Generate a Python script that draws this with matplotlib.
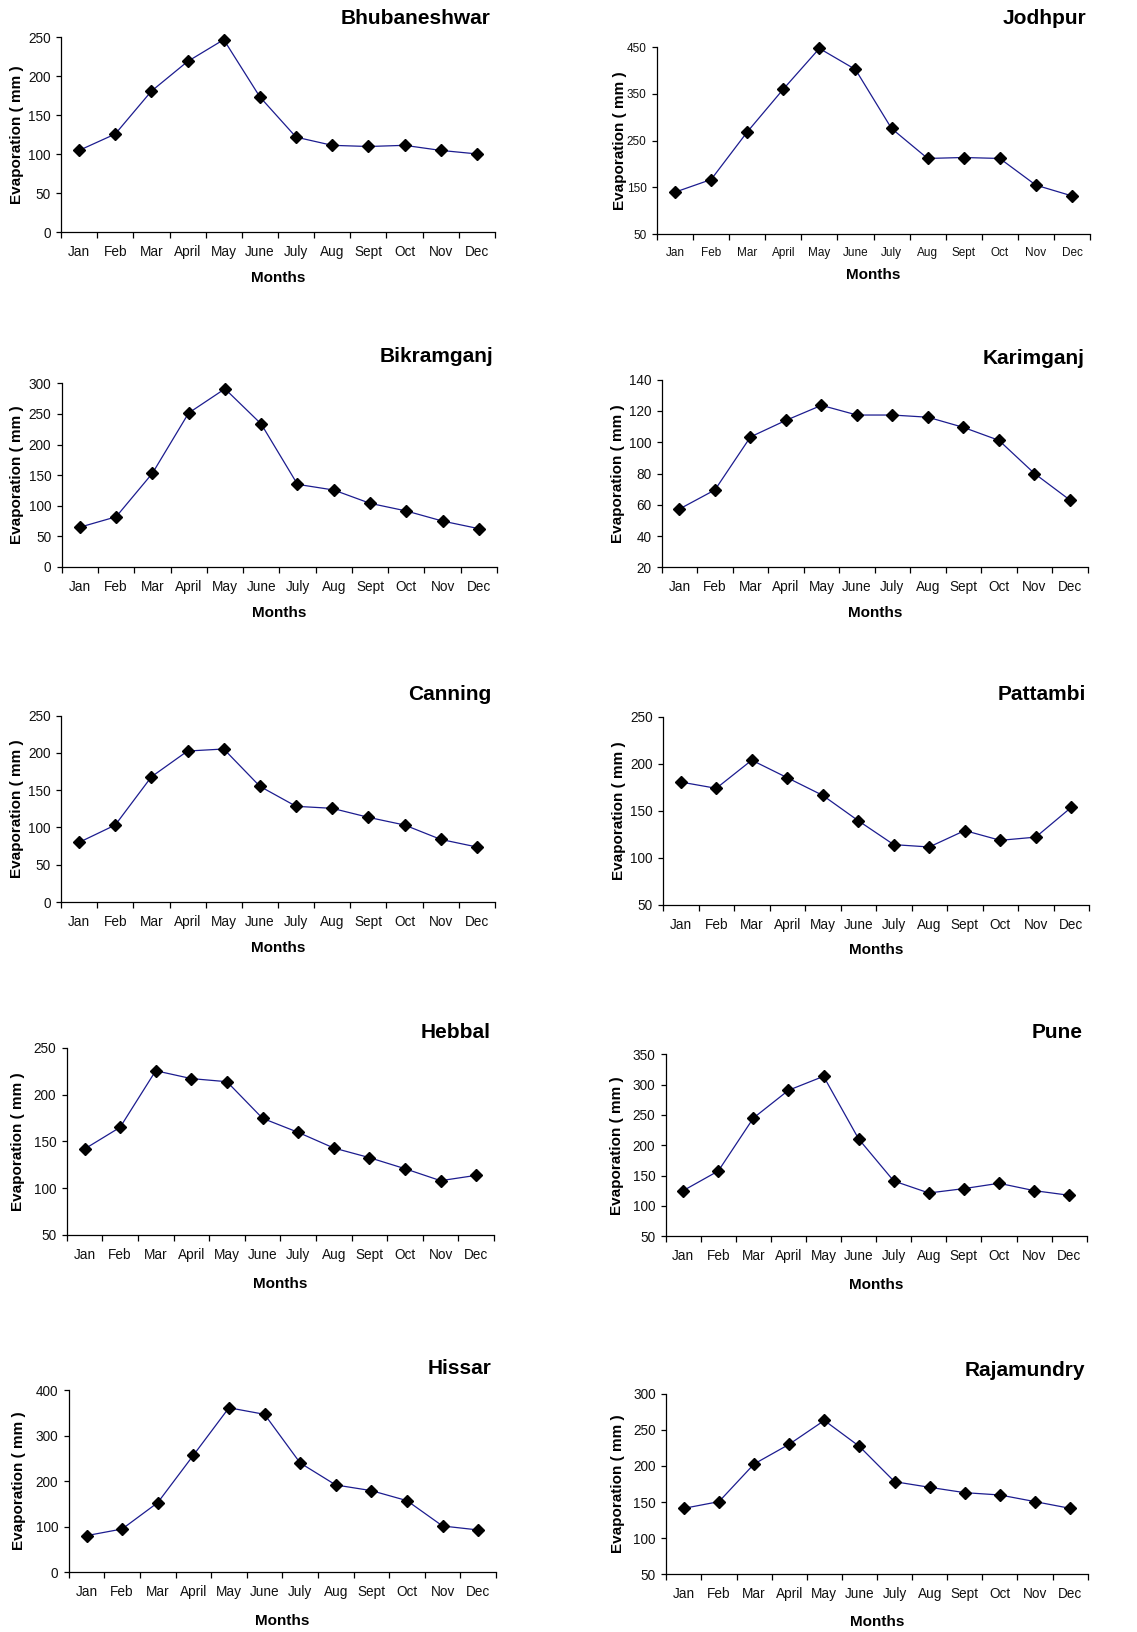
import numpy as np
import matplotlib
matplotlib.use("Agg")
import matplotlib.pyplot as plt

plt.rcParams['font.family'] = ['Liberation Sans', 'DejaVu Sans']

months = ["Jan", "Feb", "Mar", "April", "May", "June", "July", "Aug", "Sept", "Oct", "Nov", "Dec"]

bhubaneshwar = [105, 126, 181, 219, 247, 173.5, 122, 111.5, 110, 111.5, 105, 100.5]
jodhpur = [140, 167, 268.5, 360, 447, 402, 276, 212, 214, 212, 155, 132]
bikramganj = [65, 82, 153, 251.5, 291, 233.5, 135, 125.7, 104, 91.5, 75, 62.6]
karimganj = [57.3, 69.5, 103.4, 114, 123.6, 117.4, 117.4, 116, 109.5, 101.2, 80, 63]
canning = [80, 103.3, 168, 202.6, 205.3, 155.2, 128.4, 125.7, 113.6, 103.3, 84, 73.8]
pattambi = [180.7, 174, 204, 185.3, 166.5, 139.5, 114, 111.5, 129, 118.6, 122, 153.7]
hebbal = [141.8, 165, 225.4, 217, 213.7, 174.6, 159.6, 142.9, 132.6, 120.8, 108, 113.7]
pune = [125.3, 157.7, 245, 290.7, 313.7, 210.4, 141.2, 121.4, 128.6, 137.4, 125.3, 117.6]
hissar = [80.4, 95, 152.8, 256.7, 361, 346.6, 239.9, 191.6, 179.2, 157.2, 101.6, 92.9]
rajamundry = [141.3, 150.6, 202.7, 230, 263, 227, 178.2, 170.4, 163, 159.8, 150.6, 141.3]

stations = ["Bhubaneshwar", "Jodhpur", "Bikramganj", "Karimganj", "Canning",
            "Pattambi", "Hebbal", "Pune", "Hissar", "Rajamundry"]
series = [bhubaneshwar, jodhpur, bikramganj, karimganj, canning,
          pattambi, hebbal, pune, hissar, rajamundry]
yticks = [np.arange(0, 251, 50), np.arange(50, 451, 100), np.arange(0, 301, 50),
          np.arange(20, 141, 20), np.arange(0, 251, 50), np.arange(50, 251, 50),
          np.arange(50, 251, 50), np.arange(50, 351, 50), np.arange(0, 401, 100),
          np.arange(50, 301, 50)]

W, H = 1137, 1632
fig = plt.figure(figsize=(W / 100, H / 100), dpi=100)

# pixel layout: left, right, top, bottom of plot area
rects = [(61, 495, 37.3, 232.3), (657, 1090, 47, 234.3),
         (61.7, 497, 383.3, 567), (661.7, 1087.7, 379.7, 567.3),
         (61, 495, 715.7, 902), (663, 1089, 717, 904.7),
         (66.7, 494, 1047.7, 1235), (665.7, 1086.7, 1054.3, 1236.3),
         (68.7, 496, 1390, 1572.3), (666.3, 1087.7, 1393.7, 1574.3)]
title_pos = [(491, 19), (1086, 19), (493, 357), (1085, 359), (491, 695),
             (1086, 694), (491, 1033), (1083, 1032), (491.7, 1368), (1085, 1370)]
months_y = [278, 275, 613, 613, 948, 950, 1284, 1285, 1621, 1622]
ylab_x = [17, 620, 17, 618, 17, 619, 18, 617, 19.3, 618]

for i in range(10):
    l, r, t, b = rects[i]
    ax = fig.add_axes([l / W, 1 - b / H, (r - l) / W, (b - t) / H])
    x = np.arange(12)
    ax.plot(x, series[i], color='#1c1c8f', lw=0.9, marker='D', ms=6,
            mfc='black', mec='black', zorder=3, clip_on=False)
    yt = yticks[i]
    ax.set_ylim(yt[0], yt[-1])
    ax.set_yticks(yt)
    ax.set_xlim(-0.5, 11.5)
    ax.set_xticks(x)
    ax.set_xticklabels(months)
    ax.set_xticks(np.arange(-0.5, 12, 1), minor=True)
    fs = 8.5 if i == 1 else 9.8
    ax.tick_params(axis='x', which='major', length=0, pad=9.5, labelsize=fs, colors='#111111')
    ax.tick_params(axis='x', which='minor', length=4, width=0.9, direction='out', color='black')
    ax.tick_params(axis='y', length=3.5, width=0.9, direction='out', pad=4,
                   labelsize=fs, colors='#111111')
    ax.tick_params(axis='y', colors='black', labelcolor='#111111')
    for s in ['top', 'right']:
        ax.spines[s].set_visible(False)
    for s in ['left', 'bottom']:
        ax.spines[s].set_linewidth(0.9)
        ax.spines[s].set_color('black')
    ax.set_facecolor('none')

    tx, ty = title_pos[i]
    fig.text(tx / W, 1 - ty / H, stations[i], ha='right', va='center',
             fontsize=15, fontweight='bold')
    fig.text((l + r) / 2 / W, 1 - months_y[i] / H, "Months", ha='center',
             va='center', fontsize=11, fontweight='bold')
    fig.text(ylab_x[i] / W, 1 - (t + b) / 2 / H, "Evaporation ( mm )",
             ha='center', va='center', rotation=90, fontsize=11, fontweight='bold')

fig.savefig("out.png", dpi=100)
